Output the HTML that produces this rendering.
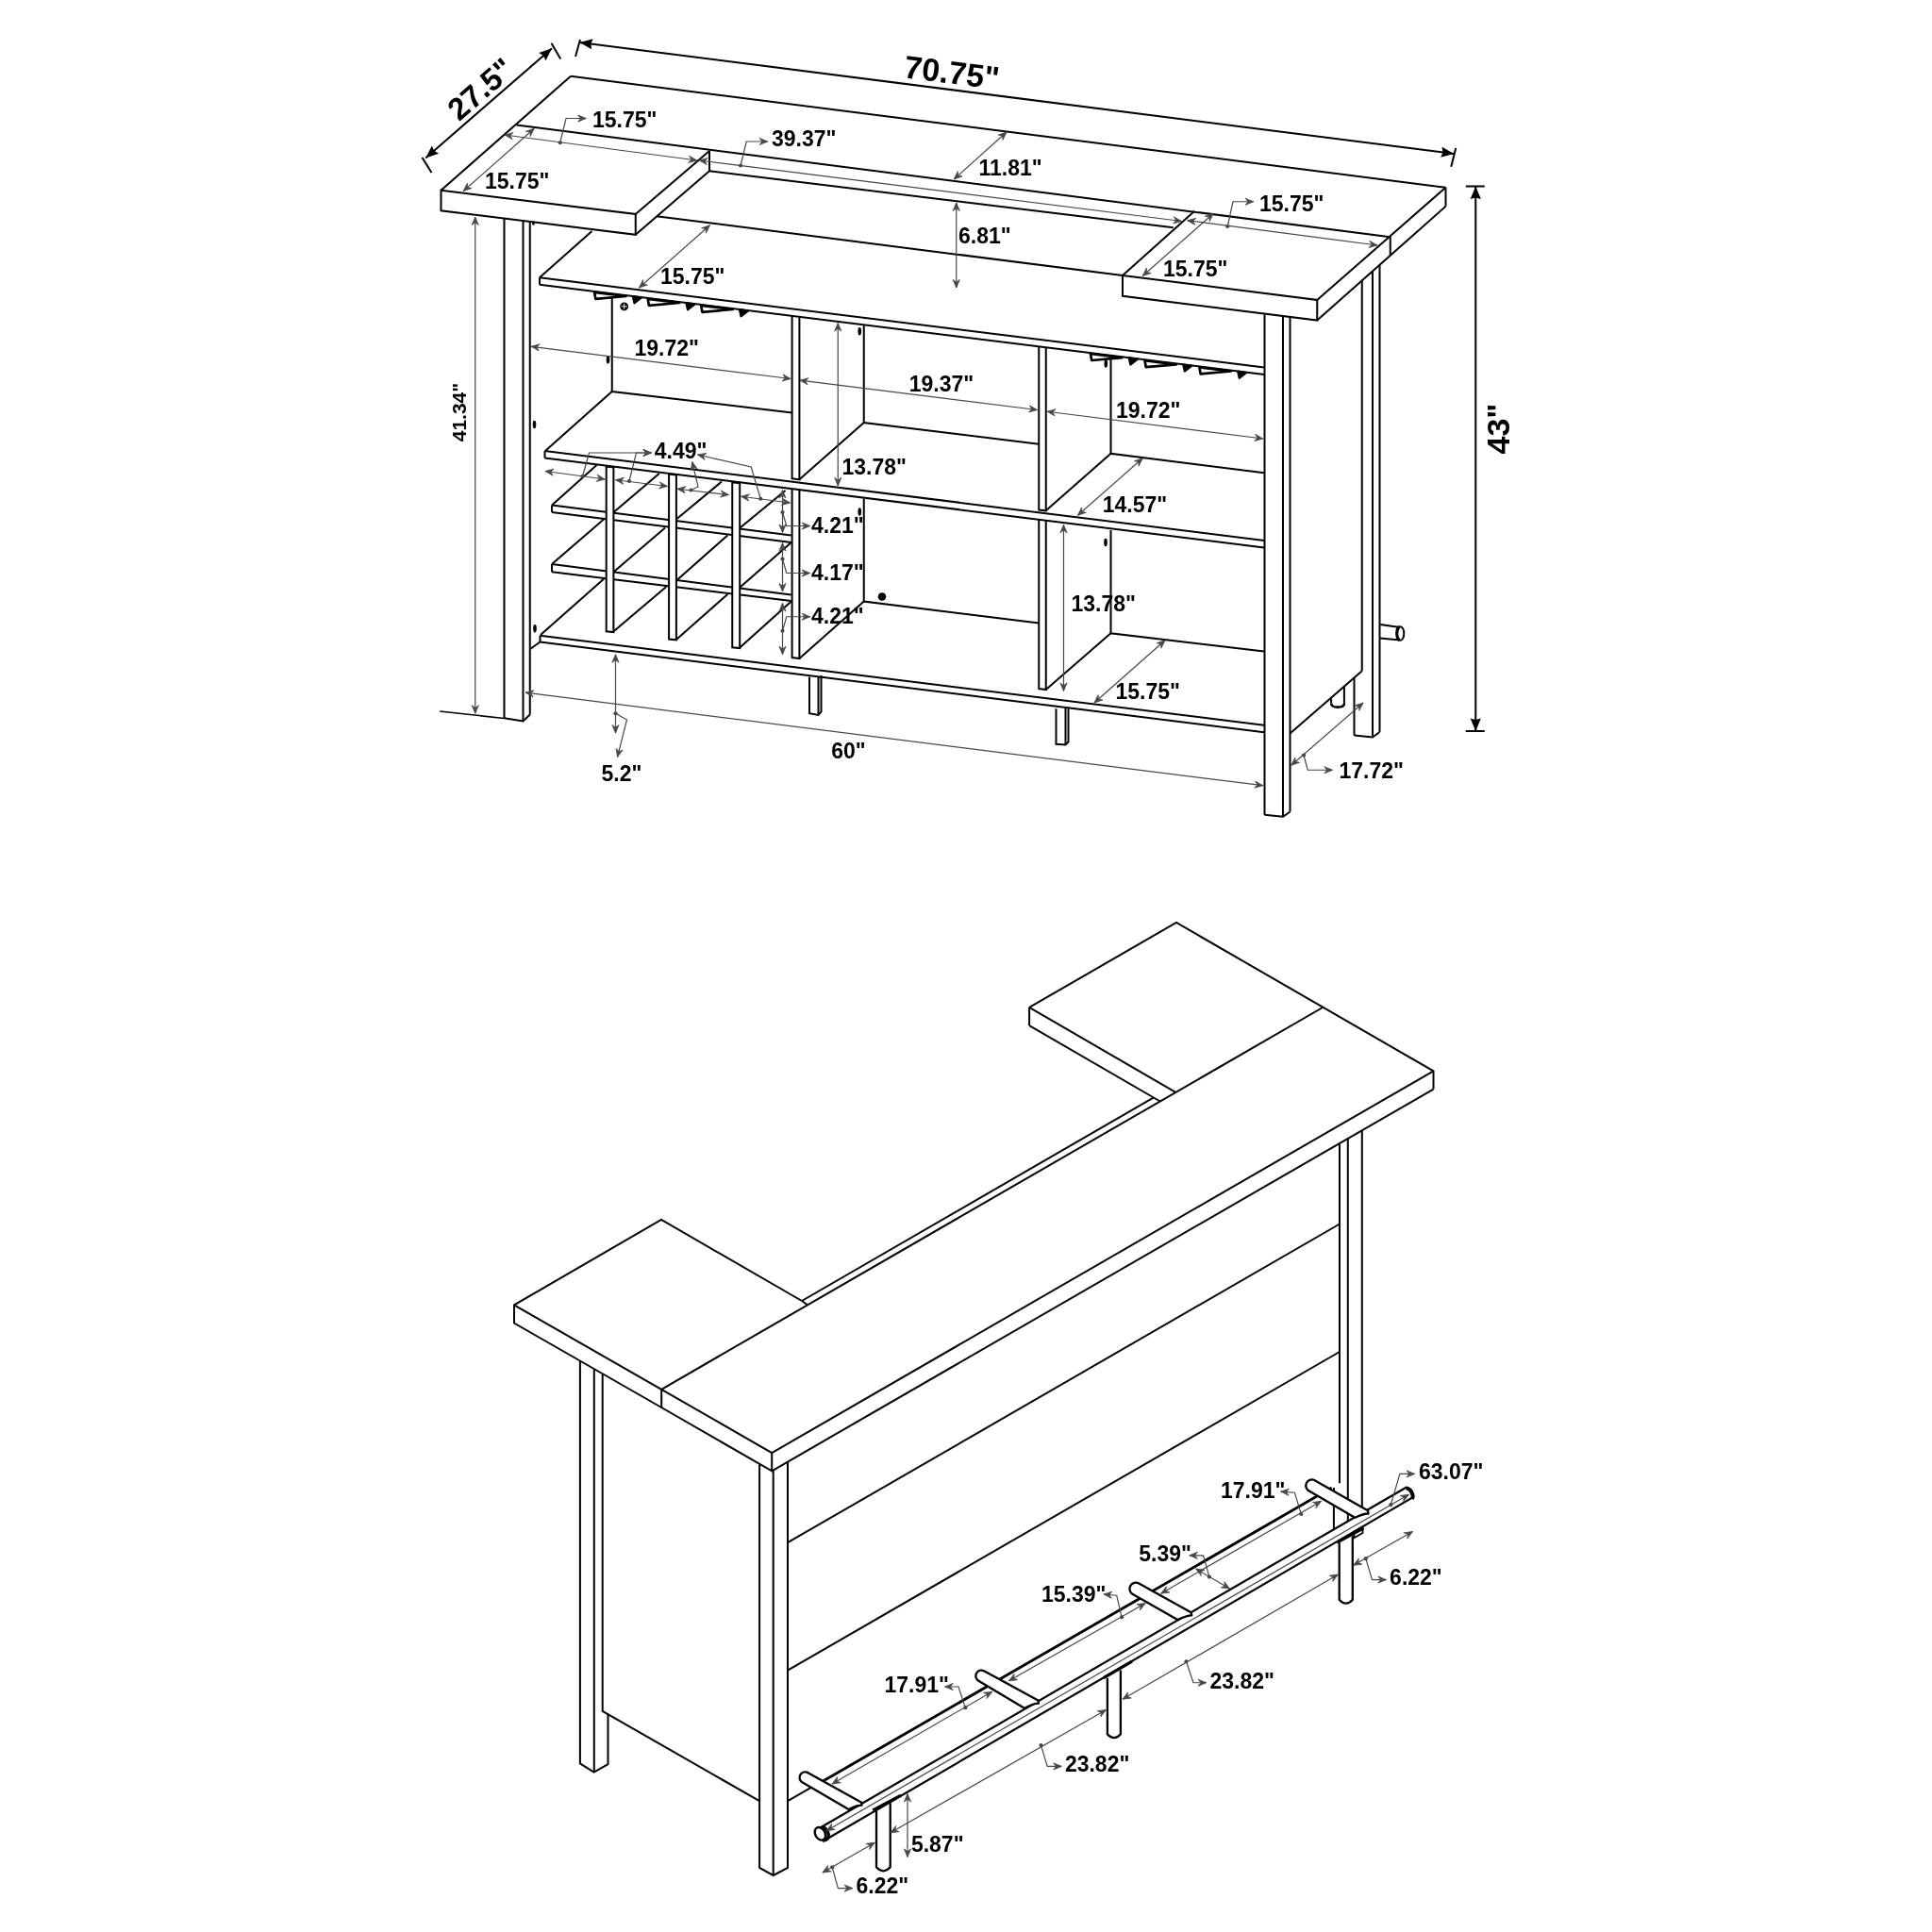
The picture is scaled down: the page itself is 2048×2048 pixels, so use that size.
<!DOCTYPE html>
<html><head><meta charset="utf-8"><style>
html,body{margin:0;padding:0;background:#fff;}
svg{display:block;will-change:transform;}
text{font-family:"Liberation Sans",sans-serif;fill:#000;}
</style></head><body>
<svg width="2048" height="2048" viewBox="0 0 2048 2048">
<rect width="2048" height="2048" fill="#fff"/>
<polyline points="605.00,80.75 1532.50,198.75" fill="none" stroke="#000" stroke-width="2.0" stroke-linejoin="miter" stroke-linecap="butt"/>
<polyline points="605.00,80.75 467.50,201.75" fill="none" stroke="#000" stroke-width="2.0" stroke-linejoin="miter" stroke-linecap="butt"/>
<polygon points="467.50,201.75 673.75,227.00 673.75,248.75 467.50,223.25" fill="none" stroke="#000" stroke-width="2.0" stroke-linejoin="miter"/>
<polyline points="673.75,227.00 752.00,160.00" fill="none" stroke="#000" stroke-width="2.0" stroke-linejoin="miter" stroke-linecap="butt"/>
<polyline points="673.75,248.75 752.00,181.25" fill="none" stroke="#000" stroke-width="2.0" stroke-linejoin="miter" stroke-linecap="butt"/>
<polyline points="752.00,160.00 752.00,181.25" fill="none" stroke="#000" stroke-width="2.0" stroke-linejoin="miter" stroke-linecap="butt"/>
<polyline points="547.50,132.50 1473.75,251.25" fill="none" stroke="#000" stroke-width="2.0" stroke-linejoin="miter" stroke-linecap="butt"/>
<polyline points="752.00,181.25 1243.75,241.25" fill="none" stroke="#000" stroke-width="2.0" stroke-linejoin="miter" stroke-linecap="butt"/>
<polyline points="1266.25,223.75 1190.00,292.00" fill="none" stroke="#000" stroke-width="2.0" stroke-linejoin="miter" stroke-linecap="butt"/>
<polyline points="696.00,229.20 1190.00,292.00" fill="none" stroke="#000" stroke-width="2.0" stroke-linejoin="miter" stroke-linecap="butt"/>
<polygon points="1190.00,292.00 1396.25,318.00 1396.25,339.50 1190.00,313.75" fill="none" stroke="#000" stroke-width="2.0" stroke-linejoin="miter"/>
<polyline points="1532.50,198.75 1396.25,318.00" fill="none" stroke="#000" stroke-width="2.0" stroke-linejoin="miter" stroke-linecap="butt"/>
<polyline points="1532.50,218.75 1396.25,339.50" fill="none" stroke="#000" stroke-width="2.0" stroke-linejoin="miter" stroke-linecap="butt"/>
<polyline points="1532.50,198.75 1532.50,218.75" fill="none" stroke="#000" stroke-width="2.0" stroke-linejoin="miter" stroke-linecap="butt"/>
<polyline points="1473.75,250.50 1473.75,270.50" fill="none" stroke="#000" stroke-width="2.0" stroke-linejoin="miter" stroke-linecap="butt"/>
<polyline points="627.50,245.00 572.00,294.25" fill="none" stroke="#000" stroke-width="2.0" stroke-linejoin="miter" stroke-linecap="butt"/>
<polyline points="572.00,294.25 1340.00,389.50" fill="none" stroke="#000" stroke-width="2.0" stroke-linejoin="miter" stroke-linecap="butt"/>
<polyline points="572.00,301.75 1340.00,397.00" fill="none" stroke="#000" stroke-width="2.0" stroke-linejoin="miter" stroke-linecap="butt"/>
<polyline points="572.00,294.25 572.00,301.75" fill="none" stroke="#000" stroke-width="2.0" stroke-linejoin="miter" stroke-linecap="butt"/>
<polyline points="534.50,231.50 534.50,761.25" fill="none" stroke="#000" stroke-width="2.0" stroke-linejoin="miter" stroke-linecap="butt"/>
<polyline points="554.50,234.00 554.50,764.50" fill="none" stroke="#000" stroke-width="2.0" stroke-linejoin="miter" stroke-linecap="butt"/>
<polyline points="561.75,235.00 561.75,757.50" fill="none" stroke="#000" stroke-width="2.0" stroke-linejoin="miter" stroke-linecap="butt"/>
<polyline points="534.50,761.25 554.50,764.50 561.75,757.50" fill="none" stroke="#000" stroke-width="2.0" stroke-linejoin="miter" stroke-linecap="butt"/>
<polyline points="466.25,754.00 534.50,761.50" fill="none" stroke="#000" stroke-width="1.6" stroke-linejoin="miter" stroke-linecap="butt"/>
<polyline points="1340.50,333.50 1340.50,863.75" fill="none" stroke="#000" stroke-width="2.0" stroke-linejoin="miter" stroke-linecap="butt"/>
<polyline points="1360.00,336.00 1360.00,865.75" fill="none" stroke="#000" stroke-width="2.0" stroke-linejoin="miter" stroke-linecap="butt"/>
<polyline points="1367.50,335.00 1367.50,860.50" fill="none" stroke="#000" stroke-width="2.0" stroke-linejoin="miter" stroke-linecap="butt"/>
<polyline points="1340.50,863.75 1360.00,865.75 1367.50,860.50" fill="none" stroke="#000" stroke-width="2.0" stroke-linejoin="miter" stroke-linecap="butt"/>
<polyline points="1443.75,298.00 1443.75,711.25" fill="none" stroke="#000" stroke-width="2.0" stroke-linejoin="miter" stroke-linecap="butt"/>
<polyline points="1455.00,287.50 1455.00,780.00" fill="none" stroke="#000" stroke-width="2.0" stroke-linejoin="miter" stroke-linecap="butt"/>
<polyline points="1462.50,281.00 1462.50,776.00" fill="none" stroke="#000" stroke-width="2.0" stroke-linejoin="miter" stroke-linecap="butt"/>
<polyline points="1367.50,777.50 1443.75,711.25" fill="none" stroke="#000" stroke-width="2.0" stroke-linejoin="miter" stroke-linecap="butt"/>
<polyline points="1435.50,718.50 1435.50,779.50" fill="none" stroke="#000" stroke-width="2.0" stroke-linejoin="miter" stroke-linecap="butt"/>
<polyline points="1435.50,779.50 1455.00,781.50 1462.50,776.00" fill="none" stroke="#000" stroke-width="2.0" stroke-linejoin="miter" stroke-linecap="butt"/>
<polyline points="1411.10,740.50 1411.10,745.50" fill="none" stroke="#000" stroke-width="2.0" stroke-linejoin="miter" stroke-linecap="butt"/>
<polyline points="1424.90,728.00 1424.90,746.00" fill="none" stroke="#000" stroke-width="2.0" stroke-linejoin="miter" stroke-linecap="butt"/>
<path d="M1411.1,745.5 Q1411.3,749.6 1418,749.6 Q1424.9,749.6 1424.9,746" fill="none" stroke="#000" stroke-width="2.6"/>
<polyline points="1463.00,662.00 1484.00,665.00" fill="none" stroke="#000" stroke-width="2.0" stroke-linejoin="miter" stroke-linecap="butt"/>
<polyline points="1463.00,676.50 1484.00,678.50" fill="none" stroke="#000" stroke-width="2.0" stroke-linejoin="miter" stroke-linecap="butt"/>
<ellipse cx="1484.5" cy="671.5" rx="3.8" ry="7.3" fill="#fff" stroke="#000" stroke-width="2"/>
<path d="M1483.5,664.5 A3.8,7.3 0 0 0 1483.5,678.5" fill="none" stroke="#000" stroke-width="3.2"/>
<polyline points="839.60,335.50 839.60,507.30 847.40,508.30 847.40,336.50" fill="none" stroke="#000" stroke-width="2.0" stroke-linejoin="miter" stroke-linecap="butt"/>
<polyline points="847.40,508.30 915.75,448.00" fill="none" stroke="#000" stroke-width="2.0" stroke-linejoin="miter" stroke-linecap="butt"/>
<polyline points="1101.25,367.50 1101.25,540.50 1108.75,541.30 1108.75,368.50" fill="none" stroke="#000" stroke-width="2.0" stroke-linejoin="miter" stroke-linecap="butt"/>
<polyline points="1108.75,541.30 1177.50,480.75" fill="none" stroke="#000" stroke-width="2.0" stroke-linejoin="miter" stroke-linecap="butt"/>
<polyline points="839.60,518.50 839.60,697.00 847.40,698.00 847.40,519.50" fill="none" stroke="#000" stroke-width="2.0" stroke-linejoin="miter" stroke-linecap="butt"/>
<polyline points="847.40,698.00 915.75,637.50" fill="none" stroke="#000" stroke-width="2.0" stroke-linejoin="miter" stroke-linecap="butt"/>
<polyline points="1101.25,551.00 1101.25,730.00 1108.75,731.00 1108.75,552.00" fill="none" stroke="#000" stroke-width="2.0" stroke-linejoin="miter" stroke-linecap="butt"/>
<polyline points="1108.75,731.00 1177.50,671.25" fill="none" stroke="#000" stroke-width="2.0" stroke-linejoin="miter" stroke-linecap="butt"/>
<polyline points="648.75,316.25 648.75,415.00 839.60,437.50" fill="none" stroke="#000" stroke-width="2.0" stroke-linejoin="miter" stroke-linecap="butt"/>
<polyline points="648.75,415.00 578.00,478.00" fill="none" stroke="#000" stroke-width="2.0" stroke-linejoin="miter" stroke-linecap="butt"/>
<polyline points="915.75,344.50 915.75,448.00 1101.25,470.75" fill="none" stroke="#000" stroke-width="2.0" stroke-linejoin="miter" stroke-linecap="butt"/>
<polyline points="1177.50,377.00 1177.50,480.75 1340.00,501.25" fill="none" stroke="#000" stroke-width="2.0" stroke-linejoin="miter" stroke-linecap="butt"/>
<polyline points="915.75,528.75 915.75,637.50 1101.25,660.50" fill="none" stroke="#000" stroke-width="2.0" stroke-linejoin="miter" stroke-linecap="butt"/>
<polyline points="1177.50,562.00 1177.50,671.25 1340.00,690.50" fill="none" stroke="#000" stroke-width="2.0" stroke-linejoin="miter" stroke-linecap="butt"/>
<polyline points="577.50,478.00 1340.00,573.00" fill="none" stroke="#000" stroke-width="2.0" stroke-linejoin="miter" stroke-linecap="butt"/>
<polyline points="577.50,485.50 1340.00,580.50" fill="none" stroke="#000" stroke-width="2.0" stroke-linejoin="miter" stroke-linecap="butt"/>
<polyline points="577.50,478.00 577.50,485.50" fill="none" stroke="#000" stroke-width="2.0" stroke-linejoin="miter" stroke-linecap="butt"/>
<polyline points="572.50,673.75 1340.00,768.75" fill="none" stroke="#000" stroke-width="2.0" stroke-linejoin="miter" stroke-linecap="butt"/>
<polyline points="572.50,680.50 1340.00,776.25" fill="none" stroke="#000" stroke-width="2.0" stroke-linejoin="miter" stroke-linecap="butt"/>
<polyline points="572.50,673.75 572.50,680.50" fill="none" stroke="#000" stroke-width="2.0" stroke-linejoin="miter" stroke-linecap="butt"/>
<polyline points="562.00,688.00 572.50,680.50" fill="none" stroke="#000" stroke-width="2.0" stroke-linejoin="miter" stroke-linecap="butt"/>
<polyline points="858.00,717.50 858.00,756.25 867.50,758.00 870.50,754.50 870.50,716.00" fill="none" stroke="#000" stroke-width="2.0" stroke-linejoin="miter" stroke-linecap="butt"/>
<polyline points="867.50,717.00 867.50,758.00" fill="none" stroke="#000" stroke-width="2.0" stroke-linejoin="miter" stroke-linecap="butt"/>
<polyline points="1119.50,751.25 1119.50,788.75 1129.50,789.50 1132.50,786.50 1132.50,749.50" fill="none" stroke="#000" stroke-width="2.0" stroke-linejoin="miter" stroke-linecap="butt"/>
<polyline points="1129.50,750.50 1129.50,789.50" fill="none" stroke="#000" stroke-width="2.0" stroke-linejoin="miter" stroke-linecap="butt"/>
<polyline points="585.00,535.50 838.75,567.50" fill="none" stroke="#000" stroke-width="2.0" stroke-linejoin="miter" stroke-linecap="butt"/>
<polyline points="585.00,543.00 838.75,575.00" fill="none" stroke="#000" stroke-width="2.0" stroke-linejoin="miter" stroke-linecap="butt"/>
<polyline points="585.00,535.50 585.00,543.00" fill="none" stroke="#000" stroke-width="2.0" stroke-linejoin="miter" stroke-linecap="butt"/>
<polyline points="585.00,598.00 838.75,630.50" fill="none" stroke="#000" stroke-width="2.0" stroke-linejoin="miter" stroke-linecap="butt"/>
<polyline points="585.00,606.25 838.75,637.00" fill="none" stroke="#000" stroke-width="2.0" stroke-linejoin="miter" stroke-linecap="butt"/>
<polyline points="585.00,598.00 585.00,606.25" fill="none" stroke="#000" stroke-width="2.0" stroke-linejoin="miter" stroke-linecap="butt"/>
<polyline points="585.00,535.50 632.50,493.00" fill="none" stroke="#000" stroke-width="2.0" stroke-linejoin="miter" stroke-linecap="butt"/>
<polyline points="650.50,543.00 698.75,502.00" fill="none" stroke="#000" stroke-width="2.0" stroke-linejoin="miter" stroke-linecap="butt"/>
<polyline points="717.50,550.00 765.00,510.50" fill="none" stroke="#000" stroke-width="2.0" stroke-linejoin="miter" stroke-linecap="butt"/>
<polyline points="784.50,559.50 832.50,520.00" fill="none" stroke="#000" stroke-width="2.0" stroke-linejoin="miter" stroke-linecap="butt"/>
<polyline points="585.00,598.00 640.00,550.50" fill="none" stroke="#000" stroke-width="2.0" stroke-linejoin="miter" stroke-linecap="butt"/>
<polyline points="650.50,606.25 705.00,559.50" fill="none" stroke="#000" stroke-width="2.0" stroke-linejoin="miter" stroke-linecap="butt"/>
<polyline points="717.50,615.00 771.25,567.50" fill="none" stroke="#000" stroke-width="2.0" stroke-linejoin="miter" stroke-linecap="butt"/>
<polyline points="784.50,622.50 838.75,575.00" fill="none" stroke="#000" stroke-width="2.0" stroke-linejoin="miter" stroke-linecap="butt"/>
<polyline points="573.00,673.00 640.00,613.75" fill="none" stroke="#000" stroke-width="2.0" stroke-linejoin="miter" stroke-linecap="butt"/>
<polyline points="650.50,669.25 706.25,622.00" fill="none" stroke="#000" stroke-width="2.0" stroke-linejoin="miter" stroke-linecap="butt"/>
<polyline points="717.50,677.50 771.25,630.00" fill="none" stroke="#000" stroke-width="2.0" stroke-linejoin="miter" stroke-linecap="butt"/>
<polyline points="784.50,686.25 838.75,637.50" fill="none" stroke="#000" stroke-width="2.0" stroke-linejoin="miter" stroke-linecap="butt"/>
<polygon points="642.70,494.50 642.70,669.25 650.40,670.05 650.40,495.50" fill="#fff" stroke="#000" stroke-width="2.0" stroke-linejoin="miter"/>
<polygon points="709.10,502.50 709.10,677.50 716.90,678.30 716.90,503.50" fill="#fff" stroke="#000" stroke-width="2.0" stroke-linejoin="miter"/>
<polygon points="776.25,511.25 776.25,686.25 784.20,687.05 784.20,512.25" fill="#fff" stroke="#000" stroke-width="2.0" stroke-linejoin="miter"/>
<polygon points="630.1,309.8 631.3,316.8 663.5,314.0" fill="#fff" stroke="#000" stroke-width="2.7" stroke-linejoin="round"/>
<polygon points="670.7,314.1 680.1,315.4 672.4,321.4" fill="#000" stroke="#000" stroke-width="2" stroke-linejoin="round"/>
<polygon points="686.7,316.8 687.9,323.8 720.1,321.0" fill="#fff" stroke="#000" stroke-width="2.7" stroke-linejoin="round"/>
<polygon points="727.3,321.1 736.7,322.4 729.0,328.4" fill="#000" stroke="#000" stroke-width="2" stroke-linejoin="round"/>
<polygon points="743.2,323.8 744.4,330.8 776.6,328.0" fill="#fff" stroke="#000" stroke-width="2.7" stroke-linejoin="round"/>
<polygon points="783.8,328.1 793.2,329.4 785.5,335.4" fill="#000" stroke="#000" stroke-width="2" stroke-linejoin="round"/>
<polygon points="1156.0,375.0 1157.2,382.0 1189.4,379.2" fill="#fff" stroke="#000" stroke-width="2.7" stroke-linejoin="round"/>
<polygon points="1196.6,379.3 1206.0,380.6 1198.3,386.6" fill="#000" stroke="#000" stroke-width="2" stroke-linejoin="round"/>
<polygon points="1213.5,382.1 1214.7,389.1 1246.9,386.3" fill="#fff" stroke="#000" stroke-width="2.7" stroke-linejoin="round"/>
<polygon points="1254.1,386.4 1263.5,387.7 1255.8,393.7" fill="#000" stroke="#000" stroke-width="2" stroke-linejoin="round"/>
<polygon points="1271.4,389.3 1272.6,396.3 1304.8,393.5" fill="#fff" stroke="#000" stroke-width="2.7" stroke-linejoin="round"/>
<polygon points="1312.0,393.6 1321.4,394.9 1313.7,400.9" fill="#000" stroke="#000" stroke-width="2" stroke-linejoin="round"/>
<circle cx="661.7" cy="324.8" r="4.4" fill="#000"/>
<path d="M658.7,324.8 H664.7 M661.7,321.8 V327.8" stroke="#fff" stroke-width="0.9"/>
<ellipse cx="1172.3" cy="385.5" rx="1.8" ry="4.2" fill="#000"/>
<ellipse cx="644.5" cy="381.25" rx="1.8" ry="4.2" fill="#000"/>
<ellipse cx="566.5" cy="450" rx="1.8" ry="4.2" fill="#000"/>
<ellipse cx="567" cy="666.25" rx="1.8" ry="4.2" fill="#000"/>
<ellipse cx="911.25" cy="351.25" rx="1.8" ry="4.2" fill="#000"/>
<ellipse cx="911.25" cy="542.5" rx="1.8" ry="4.2" fill="#000"/>
<ellipse cx="1172" cy="575" rx="1.8" ry="4.2" fill="#000"/>
<circle cx="935" cy="632.5" r="4.3" fill="#000"/>
<ellipse cx="565.5" cy="236.5" rx="1.4" ry="2.2" fill="#000"/>
<line x1="451.25" y1="167.50" x2="585.00" y2="51.25" stroke="#000" stroke-width="2.0"/>
<polygon points="451.25,167.50 457.77,154.42 460.22,159.71 465.11,162.87" fill="#000"/>
<polygon points="585.00,51.25 578.48,64.33 576.03,59.04 571.14,55.88" fill="#000"/>
<polyline points="447.50,167.00 457.50,183.00" fill="none" stroke="#000" stroke-width="2.0" stroke-linejoin="miter" stroke-linecap="butt"/>
<polyline points="584.50,45.75 594.25,62.50" fill="none" stroke="#000" stroke-width="2.0" stroke-linejoin="miter" stroke-linecap="butt"/>
<text x="517.00" y="103.00" font-size="33" text-anchor="middle" font-weight="bold" transform="rotate(-41 517.00 103.00)">27.5"</text>
<line x1="614.50" y1="45.00" x2="1541.25" y2="163.00" stroke="#000" stroke-width="2.0"/>
<polygon points="614.50,45.00 628.60,41.15 626.28,46.50 627.18,52.26" fill="#000"/>
<polygon points="1541.25,163.00 1527.15,166.85 1529.47,161.50 1528.57,155.74" fill="#000"/>
<polyline points="610.00,60.00 615.00,42.00" fill="none" stroke="#000" stroke-width="2.0" stroke-linejoin="miter" stroke-linecap="butt"/>
<polyline points="1543.25,157.00 1538.25,176.75" fill="none" stroke="#000" stroke-width="2.0" stroke-linejoin="miter" stroke-linecap="butt"/>
<text x="1007.50" y="88.50" font-size="34" text-anchor="middle" font-weight="bold" transform="rotate(7.2 1007.50 88.50)">70.75"</text>
<line x1="1564.25" y1="197.50" x2="1564.25" y2="775.00" stroke="#000" stroke-width="2.0"/>
<polygon points="1564.25,197.50 1569.85,211.00 1564.25,209.38 1558.65,211.00" fill="#000"/>
<polygon points="1564.25,775.00 1558.65,761.50 1564.25,763.12 1569.85,761.50" fill="#000"/>
<polyline points="1553.75,197.50 1573.75,197.50" fill="none" stroke="#000" stroke-width="2.0" stroke-linejoin="miter" stroke-linecap="butt"/>
<polyline points="1553.75,775.00 1573.75,775.00" fill="none" stroke="#000" stroke-width="2.0" stroke-linejoin="miter" stroke-linecap="butt"/>
<text x="1600.00" y="454.50" font-size="34" text-anchor="middle" font-weight="bold" transform="rotate(-90 1600.00 454.50)">43"</text>
<line x1="503.75" y1="230.00" x2="503.75" y2="756.25" stroke="#474747" stroke-width="1.2"/>
<polygon points="503.75,230.00 507.35,238.60 503.75,235.85 500.15,238.60" fill="#474747" stroke="#474747" stroke-width="0.8" stroke-linejoin="round"/>
<polygon points="503.75,756.25 500.15,747.65 503.75,750.40 507.35,747.65" fill="#474747" stroke="#474747" stroke-width="0.8" stroke-linejoin="round"/>
<text x="494.00" y="437.00" font-size="21" text-anchor="middle" font-weight="bold" transform="rotate(-90 494.00 437.00)">41.34"</text>
<line x1="535.00" y1="143.00" x2="738.75" y2="170.00" stroke="#474747" stroke-width="1.2"/>
<polygon points="535.00,143.00 544.00,140.56 540.80,143.77 543.05,147.70" fill="#474747" stroke="#474747" stroke-width="0.8" stroke-linejoin="round"/>
<polygon points="738.75,170.00 729.75,172.44 732.95,169.23 730.70,165.30" fill="#474747" stroke="#474747" stroke-width="0.8" stroke-linejoin="round"/>
<line x1="566.25" y1="136.25" x2="491.25" y2="202.50" stroke="#474747" stroke-width="1.2"/>
<polygon points="566.25,136.25 562.19,144.64 561.87,140.12 557.42,139.25" fill="#474747" stroke="#474747" stroke-width="0.8" stroke-linejoin="round"/>
<polygon points="491.25,202.50 495.31,194.11 495.63,198.63 500.08,199.50" fill="#474747" stroke="#474747" stroke-width="0.8" stroke-linejoin="round"/>
<polyline points="593.75,151.25 600.00,125.50 621.25,125.50" fill="none" stroke="#474747" stroke-width="1.2"/>
<circle cx="593.75" cy="151.25" r="2.1" fill="#474747"/>
<polygon points="621.25,125.50 612.65,129.10 615.40,125.50 612.65,121.90" fill="#474747" stroke="#474747" stroke-width="0.8" stroke-linejoin="round"/>
<text x="628.00" y="135.00" font-size="23" text-anchor="start" font-weight="bold">15.75"</text>
<text x="514.00" y="200.00" font-size="23" text-anchor="start" font-weight="bold">15.75"</text>
<line x1="741.25" y1="170.00" x2="1252.50" y2="234.50" stroke="#474747" stroke-width="1.2"/>
<polygon points="741.25,170.00 750.23,167.50 747.05,170.73 749.33,174.65" fill="#474747" stroke="#474747" stroke-width="0.8" stroke-linejoin="round"/>
<polygon points="1252.50,234.50 1243.52,237.00 1246.70,233.77 1244.42,229.85" fill="#474747" stroke="#474747" stroke-width="0.8" stroke-linejoin="round"/>
<polyline points="785.00,175.50 791.25,150.00 813.75,150.00" fill="none" stroke="#474747" stroke-width="1.2"/>
<circle cx="785.00" cy="175.50" r="2.1" fill="#474747"/>
<polygon points="813.75,150.00 805.15,153.60 807.90,150.00 805.15,146.40" fill="#474747" stroke="#474747" stroke-width="0.8" stroke-linejoin="round"/>
<text x="818.00" y="155.00" font-size="23" text-anchor="start" font-weight="bold">39.37"</text>
<line x1="1067.00" y1="140.00" x2="1011.25" y2="190.00" stroke="#474747" stroke-width="1.2"/>
<polygon points="1067.00,140.00 1063.00,148.42 1062.65,143.90 1058.19,143.06" fill="#474747" stroke="#474747" stroke-width="0.8" stroke-linejoin="round"/>
<polygon points="1011.25,190.00 1015.25,181.58 1015.60,186.10 1020.06,186.94" fill="#474747" stroke="#474747" stroke-width="0.8" stroke-linejoin="round"/>
<text x="1037.50" y="186.00" font-size="23" text-anchor="start" font-weight="bold">11.81"</text>
<line x1="1013.75" y1="215.00" x2="1013.75" y2="305.00" stroke="#474747" stroke-width="1.2"/>
<polygon points="1013.75,215.00 1017.35,223.60 1013.75,220.85 1010.15,223.60" fill="#474747" stroke="#474747" stroke-width="0.8" stroke-linejoin="round"/>
<polygon points="1013.75,305.00 1010.15,296.40 1013.75,299.15 1017.35,296.40" fill="#474747" stroke="#474747" stroke-width="0.8" stroke-linejoin="round"/>
<text x="1016.00" y="257.50" font-size="23" text-anchor="start" font-weight="bold">6.81"</text>
<line x1="752.50" y1="238.75" x2="677.50" y2="305.00" stroke="#474747" stroke-width="1.2"/>
<polygon points="752.50,238.75 748.44,247.14 748.12,242.62 743.67,241.75" fill="#474747" stroke="#474747" stroke-width="0.8" stroke-linejoin="round"/>
<polygon points="677.50,305.00 681.56,296.61 681.88,301.13 686.33,302.00" fill="#474747" stroke="#474747" stroke-width="0.8" stroke-linejoin="round"/>
<text x="700.00" y="301.00" font-size="23" text-anchor="start" font-weight="bold">15.75"</text>
<line x1="1258.75" y1="233.75" x2="1460.00" y2="260.00" stroke="#474747" stroke-width="1.2"/>
<polygon points="1258.75,233.75 1267.74,231.29 1264.55,234.51 1266.81,238.43" fill="#474747" stroke="#474747" stroke-width="0.8" stroke-linejoin="round"/>
<polygon points="1460.00,260.00 1451.01,262.46 1454.20,259.24 1451.94,255.32" fill="#474747" stroke="#474747" stroke-width="0.8" stroke-linejoin="round"/>
<polyline points="1301.25,240.00 1307.00,213.75 1328.75,213.75" fill="none" stroke="#474747" stroke-width="1.2"/>
<circle cx="1301.25" cy="240.00" r="2.1" fill="#474747"/>
<polygon points="1328.75,213.75 1320.15,217.35 1322.90,213.75 1320.15,210.15" fill="#474747" stroke="#474747" stroke-width="0.8" stroke-linejoin="round"/>
<text x="1335.00" y="224.00" font-size="23" text-anchor="start" font-weight="bold">15.75"</text>
<line x1="1286.25" y1="226.25" x2="1211.25" y2="292.50" stroke="#474747" stroke-width="1.2"/>
<polygon points="1286.25,226.25 1282.19,234.64 1281.87,230.12 1277.42,229.25" fill="#474747" stroke="#474747" stroke-width="0.8" stroke-linejoin="round"/>
<polygon points="1211.25,292.50 1215.31,284.11 1215.63,288.63 1220.08,289.50" fill="#474747" stroke="#474747" stroke-width="0.8" stroke-linejoin="round"/>
<text x="1233.00" y="292.50" font-size="23" text-anchor="start" font-weight="bold">15.75"</text>
<line x1="563.10" y1="367.30" x2="838.10" y2="401.50" stroke="#474747" stroke-width="1.2"/>
<polygon points="563.10,367.30 572.08,364.79 568.90,368.02 571.19,371.93" fill="#474747" stroke="#474747" stroke-width="0.8" stroke-linejoin="round"/>
<polygon points="838.10,401.50 829.12,404.01 832.30,400.78 830.01,396.87" fill="#474747" stroke="#474747" stroke-width="0.8" stroke-linejoin="round"/>
<text x="672.50" y="377.00" font-size="23" text-anchor="start" font-weight="bold">19.72"</text>
<line x1="848.00" y1="403.20" x2="1099.50" y2="434.50" stroke="#474747" stroke-width="1.2"/>
<polygon points="848.00,403.20 856.98,400.69 853.80,403.92 856.09,407.83" fill="#474747" stroke="#474747" stroke-width="0.8" stroke-linejoin="round"/>
<polygon points="1099.50,434.50 1090.52,437.01 1093.70,433.78 1091.41,429.87" fill="#474747" stroke="#474747" stroke-width="0.8" stroke-linejoin="round"/>
<text x="963.75" y="415.00" font-size="23" text-anchor="start" font-weight="bold">19.37"</text>
<line x1="1110.00" y1="436.25" x2="1338.75" y2="465.00" stroke="#474747" stroke-width="1.2"/>
<polygon points="1110.00,436.25 1118.98,433.75 1115.80,436.98 1118.08,440.89" fill="#474747" stroke="#474747" stroke-width="0.8" stroke-linejoin="round"/>
<polygon points="1338.75,465.00 1329.77,467.50 1332.95,464.27 1330.67,460.36" fill="#474747" stroke="#474747" stroke-width="0.8" stroke-linejoin="round"/>
<text x="1183.00" y="442.50" font-size="23" text-anchor="start" font-weight="bold">19.72"</text>
<line x1="888.25" y1="342.50" x2="888.25" y2="515.00" stroke="#474747" stroke-width="1.2"/>
<polygon points="888.25,342.50 891.85,351.10 888.25,348.35 884.65,351.10" fill="#474747" stroke="#474747" stroke-width="0.8" stroke-linejoin="round"/>
<polygon points="888.25,515.00 884.65,506.40 888.25,509.15 891.85,506.40" fill="#474747" stroke="#474747" stroke-width="0.8" stroke-linejoin="round"/>
<text x="892.50" y="502.50" font-size="23" text-anchor="start" font-weight="bold">13.78"</text>
<line x1="1211.25" y1="485.75" x2="1142.50" y2="546.25" stroke="#474747" stroke-width="1.2"/>
<polygon points="1211.25,485.75 1207.17,494.13 1206.86,489.61 1202.42,488.73" fill="#474747" stroke="#474747" stroke-width="0.8" stroke-linejoin="round"/>
<polygon points="1142.50,546.25 1146.58,537.87 1146.89,542.39 1151.33,543.27" fill="#474747" stroke="#474747" stroke-width="0.8" stroke-linejoin="round"/>
<text x="1168.75" y="542.50" font-size="23" text-anchor="start" font-weight="bold">14.57"</text>
<line x1="1127.50" y1="556.25" x2="1127.50" y2="732.50" stroke="#474747" stroke-width="1.2"/>
<polygon points="1127.50,556.25 1131.10,564.85 1127.50,562.10 1123.90,564.85" fill="#474747" stroke="#474747" stroke-width="0.8" stroke-linejoin="round"/>
<polygon points="1127.50,732.50 1123.90,723.90 1127.50,726.65 1131.10,723.90" fill="#474747" stroke="#474747" stroke-width="0.8" stroke-linejoin="round"/>
<text x="1135.50" y="647.50" font-size="23" text-anchor="start" font-weight="bold">13.78"</text>
<line x1="1235.00" y1="678.75" x2="1160.00" y2="745.00" stroke="#474747" stroke-width="1.2"/>
<polygon points="1235.00,678.75 1230.94,687.14 1230.62,682.62 1226.17,681.75" fill="#474747" stroke="#474747" stroke-width="0.8" stroke-linejoin="round"/>
<polygon points="1160.00,745.00 1164.06,736.61 1164.38,741.13 1168.83,742.00" fill="#474747" stroke="#474747" stroke-width="0.8" stroke-linejoin="round"/>
<text x="1182.50" y="741.25" font-size="23" text-anchor="start" font-weight="bold">15.75"</text>
<line x1="578.00" y1="499.50" x2="641.25" y2="508.00" stroke="#474747" stroke-width="1.2"/>
<polygon points="578.00,499.50 587.00,497.08 583.80,500.28 586.04,504.21" fill="#474747" stroke="#474747" stroke-width="0.8" stroke-linejoin="round"/>
<polygon points="641.25,508.00 632.25,510.42 635.45,507.22 633.21,503.29" fill="#474747" stroke="#474747" stroke-width="0.8" stroke-linejoin="round"/>
<line x1="652.50" y1="508.75" x2="707.50" y2="515.50" stroke="#474747" stroke-width="1.2"/>
<polygon points="652.50,508.75 661.47,506.22 658.30,509.46 660.60,513.37" fill="#474747" stroke="#474747" stroke-width="0.8" stroke-linejoin="round"/>
<polygon points="707.50,515.50 698.53,518.03 701.70,514.79 699.40,510.88" fill="#474747" stroke="#474747" stroke-width="0.8" stroke-linejoin="round"/>
<line x1="718.00" y1="518.25" x2="772.50" y2="524.50" stroke="#474747" stroke-width="1.2"/>
<polygon points="718.00,518.25 726.95,515.65 723.81,518.92 726.13,522.81" fill="#474747" stroke="#474747" stroke-width="0.8" stroke-linejoin="round"/>
<polygon points="772.50,524.50 763.55,527.10 766.69,523.83 764.37,519.94" fill="#474747" stroke="#474747" stroke-width="0.8" stroke-linejoin="round"/>
<line x1="785.50" y1="526.25" x2="837.50" y2="533.00" stroke="#474747" stroke-width="1.2"/>
<polygon points="785.50,526.25 794.49,523.79 791.30,527.00 793.57,530.93" fill="#474747" stroke="#474747" stroke-width="0.8" stroke-linejoin="round"/>
<polygon points="837.50,533.00 828.51,535.46 831.70,532.25 829.43,528.32" fill="#474747" stroke="#474747" stroke-width="0.8" stroke-linejoin="round"/>
<polyline points="617.50,505.00 624.50,480.00 690.50,480.00" fill="none" stroke="#474747" stroke-width="1.2"/>
<circle cx="617.50" cy="505.00" r="2.1" fill="#474747"/>
<polygon points="690.50,480.00 681.90,483.60 684.65,480.00 681.90,476.40" fill="#474747" stroke="#474747" stroke-width="0.8" stroke-linejoin="round"/>
<polyline points="667.00,510.00 674.50,480.00 690.50,480.00" fill="none" stroke="#474747" stroke-width="1.2"/>
<circle cx="667.00" cy="510.00" r="2.1" fill="#474747"/>
<polygon points="690.50,480.00 681.90,483.60 684.65,480.00 681.90,476.40" fill="#474747" stroke="#474747" stroke-width="0.8" stroke-linejoin="round"/>
<polyline points="732.50,519.50 740.00,516.00 733.75,489.50" fill="none" stroke="#474747" stroke-width="1.2"/>
<circle cx="732.50" cy="519.50" r="2.1" fill="#474747"/>
<polygon points="733.75,489.50 739.23,497.04 735.09,495.19 732.22,498.70" fill="#474747" stroke="#474747" stroke-width="0.8" stroke-linejoin="round"/>
<polyline points="806.25,528.75 796.25,495.00 739.50,482.00" fill="none" stroke="#474747" stroke-width="1.2"/>
<circle cx="806.25" cy="528.75" r="2.1" fill="#474747"/>
<polygon points="739.50,482.00 748.69,480.41 745.20,483.31 747.08,487.43" fill="#474747" stroke="#474747" stroke-width="0.8" stroke-linejoin="round"/>
<text x="693.75" y="486.00" font-size="23" text-anchor="start" font-weight="bold">4.49"</text>
<line x1="829.50" y1="519.50" x2="829.50" y2="564.50" stroke="#474747" stroke-width="1.2"/>
<polygon points="829.50,519.50 833.10,528.10 829.50,525.35 825.90,528.10" fill="#474747" stroke="#474747" stroke-width="0.8" stroke-linejoin="round"/>
<polygon points="829.50,564.50 825.90,555.90 829.50,558.65 833.10,555.90" fill="#474747" stroke="#474747" stroke-width="0.8" stroke-linejoin="round"/>
<polyline points="829.50,543.00 833.75,557.50 858.75,557.50" fill="none" stroke="#474747" stroke-width="1.2"/>
<circle cx="829.50" cy="543.00" r="2.1" fill="#474747"/>
<polygon points="858.75,557.50 850.15,561.10 852.90,557.50 850.15,553.90" fill="#474747" stroke="#474747" stroke-width="0.8" stroke-linejoin="round"/>
<text x="860.00" y="565.00" font-size="23" text-anchor="start" font-weight="bold">4.21"</text>
<line x1="829.50" y1="575.50" x2="829.50" y2="627.00" stroke="#474747" stroke-width="1.2"/>
<polygon points="829.50,575.50 833.10,584.10 829.50,581.35 825.90,584.10" fill="#474747" stroke="#474747" stroke-width="0.8" stroke-linejoin="round"/>
<polygon points="829.50,627.00 825.90,618.40 829.50,621.15 833.10,618.40" fill="#474747" stroke="#474747" stroke-width="0.8" stroke-linejoin="round"/>
<polyline points="829.50,592.50 833.75,607.50 858.75,607.50" fill="none" stroke="#474747" stroke-width="1.2"/>
<circle cx="829.50" cy="592.50" r="2.1" fill="#474747"/>
<polygon points="858.75,607.50 850.15,611.10 852.90,607.50 850.15,603.90" fill="#474747" stroke="#474747" stroke-width="0.8" stroke-linejoin="round"/>
<text x="860.00" y="615.00" font-size="23" text-anchor="start" font-weight="bold">4.17"</text>
<line x1="829.50" y1="639.50" x2="829.50" y2="693.75" stroke="#474747" stroke-width="1.2"/>
<polygon points="829.50,639.50 833.10,648.10 829.50,645.35 825.90,648.10" fill="#474747" stroke="#474747" stroke-width="0.8" stroke-linejoin="round"/>
<polygon points="829.50,693.75 825.90,685.15 829.50,687.90 833.10,685.15" fill="#474747" stroke="#474747" stroke-width="0.8" stroke-linejoin="round"/>
<polyline points="829.50,668.75 833.75,653.75 858.75,653.75" fill="none" stroke="#474747" stroke-width="1.2"/>
<circle cx="829.50" cy="668.75" r="2.1" fill="#474747"/>
<polygon points="858.75,653.75 850.15,657.35 852.90,653.75 850.15,650.15" fill="#474747" stroke="#474747" stroke-width="0.8" stroke-linejoin="round"/>
<text x="860.00" y="661.00" font-size="23" text-anchor="start" font-weight="bold">4.21"</text>
<line x1="652.50" y1="693.75" x2="652.50" y2="777.00" stroke="#474747" stroke-width="1.2"/>
<polygon points="652.50,693.75 656.10,702.35 652.50,699.60 648.90,702.35" fill="#474747" stroke="#474747" stroke-width="0.8" stroke-linejoin="round"/>
<polygon points="652.50,777.00 648.90,768.40 652.50,771.15 656.10,768.40" fill="#474747" stroke="#474747" stroke-width="0.8" stroke-linejoin="round"/>
<polyline points="652.50,756.25 664.50,763.00 654.50,802.50" fill="none" stroke="#474747" stroke-width="1.2"/>
<circle cx="652.50" cy="756.25" r="2.1" fill="#474747"/>
<polygon points="654.50,802.50 653.12,793.28 655.94,796.83 660.10,795.05" fill="#474747" stroke="#474747" stroke-width="0.8" stroke-linejoin="round"/>
<text x="637.50" y="827.50" font-size="23" text-anchor="start" font-weight="bold">5.2"</text>
<line x1="557.00" y1="734.20" x2="1338.75" y2="832.70" stroke="#474747" stroke-width="1.2"/>
<polygon points="557.00,734.20 565.98,731.70 562.80,734.93 565.08,738.85" fill="#474747" stroke="#474747" stroke-width="0.8" stroke-linejoin="round"/>
<polygon points="1338.75,832.70 1329.77,835.20 1332.95,831.97 1330.67,828.05" fill="#474747" stroke="#474747" stroke-width="0.8" stroke-linejoin="round"/>
<text x="881.25" y="803.75" font-size="23" text-anchor="start" font-weight="bold">60"</text>
<line x1="1368.75" y1="811.25" x2="1445.00" y2="745.00" stroke="#474747" stroke-width="1.2"/>
<polygon points="1368.75,811.25 1372.88,802.89 1373.16,807.41 1377.60,808.33" fill="#474747" stroke="#474747" stroke-width="0.8" stroke-linejoin="round"/>
<polygon points="1445.00,745.00 1440.87,753.36 1440.59,748.84 1436.15,747.92" fill="#474747" stroke="#474747" stroke-width="0.8" stroke-linejoin="round"/>
<polyline points="1382.00,800.50 1386.25,816.25 1412.50,816.25" fill="none" stroke="#474747" stroke-width="1.2"/>
<circle cx="1382.00" cy="800.50" r="2.1" fill="#474747"/>
<polygon points="1412.50,816.25 1403.90,819.85 1406.65,816.25 1403.90,812.65" fill="#474747" stroke="#474747" stroke-width="0.8" stroke-linejoin="round"/>
<text x="1419.50" y="825.00" font-size="23" text-anchor="start" font-weight="bold">17.72"</text>
<polyline points="1091.10,1067.80 1247.00,978.00 1519.50,1135.30 1519.50,1154.60" fill="none" stroke="#000" stroke-width="2.0" stroke-linejoin="miter" stroke-linecap="butt"/>
<polyline points="1091.10,1067.80 1091.10,1087.10" fill="none" stroke="#000" stroke-width="2.0" stroke-linejoin="miter" stroke-linecap="butt"/>
<polyline points="1091.10,1067.80 1245.80,1157.70" fill="none" stroke="#000" stroke-width="2.0" stroke-linejoin="miter" stroke-linecap="butt"/>
<polyline points="1091.10,1087.10 1229.80,1167.50" fill="none" stroke="#000" stroke-width="2.0" stroke-linejoin="miter" stroke-linecap="butt"/>
<polyline points="1402.00,1068.00 856.00,1383.30" fill="none" stroke="#000" stroke-width="2.0" stroke-linejoin="miter" stroke-linecap="butt"/>
<polyline points="1223.00,1163.40 850.00,1379.00" fill="none" stroke="#000" stroke-width="2.0" stroke-linejoin="miter" stroke-linecap="butt"/>
<polyline points="850.00,1379.00 701.00,1293.00 545.00,1383.40 545.00,1402.50 701.20,1492.00 818.20,1559.30 818.20,1540.10 701.20,1472.80 545.00,1383.40" fill="none" stroke="#000" stroke-width="2.0" stroke-linejoin="miter" stroke-linecap="butt"/>
<polyline points="701.20,1472.80 701.20,1492.00" fill="none" stroke="#000" stroke-width="2.0" stroke-linejoin="miter" stroke-linecap="butt"/>
<polyline points="701.20,1472.80 856.00,1383.30" fill="none" stroke="#000" stroke-width="2.0" stroke-linejoin="miter" stroke-linecap="butt"/>
<polyline points="850.00,1379.00 856.00,1383.30" fill="none" stroke="#000" stroke-width="2.0" stroke-linejoin="miter" stroke-linecap="butt"/>
<polyline points="818.20,1540.10 1519.50,1135.30" fill="none" stroke="#000" stroke-width="2.0" stroke-linejoin="miter" stroke-linecap="butt"/>
<polyline points="818.20,1559.30 1519.50,1154.60" fill="none" stroke="#000" stroke-width="2.0" stroke-linejoin="miter" stroke-linecap="butt"/>
<polyline points="614.90,1442.90 614.90,1869.40 629.60,1878.50 644.50,1870.20 644.50,1817.00" fill="none" stroke="#000" stroke-width="2.0" stroke-linejoin="miter" stroke-linecap="butt"/>
<polyline points="629.80,1451.60 629.80,1878.50" fill="none" stroke="#000" stroke-width="2.0" stroke-linejoin="miter" stroke-linecap="butt"/>
<polyline points="638.70,1456.70 638.70,1813.90 805.10,1909.20" fill="none" stroke="#000" stroke-width="2.0" stroke-linejoin="miter" stroke-linecap="butt"/>
<polyline points="805.10,1552.40 805.10,1980.00 819.70,1988.00 835.00,1980.00 835.00,1549.60" fill="none" stroke="#000" stroke-width="2.0" stroke-linejoin="miter" stroke-linecap="butt"/>
<polyline points="819.70,1559.30 819.70,1988.00" fill="none" stroke="#000" stroke-width="2.0" stroke-linejoin="miter" stroke-linecap="butt"/>
<polyline points="835.00,1635.20 1420.00,1297.50" fill="none" stroke="#000" stroke-width="2.0" stroke-linejoin="miter" stroke-linecap="butt"/>
<polyline points="835.00,1770.60 1420.00,1433.00" fill="none" stroke="#000" stroke-width="2.0" stroke-linejoin="miter" stroke-linecap="butt"/>
<polyline points="835.00,1909.20 1411.50,1576.60" fill="none" stroke="#000" stroke-width="2.0" stroke-linejoin="miter" stroke-linecap="butt"/>
<polyline points="1420.00,1211.50 1420.00,1572.30" fill="none" stroke="#000" stroke-width="2.0" stroke-linejoin="miter" stroke-linecap="butt"/>
<polyline points="1428.80,1206.50 1428.80,1589.00" fill="none" stroke="#000" stroke-width="2.0" stroke-linejoin="miter" stroke-linecap="butt"/>
<polyline points="1443.80,1197.80 1443.80,1597.00" fill="none" stroke="#000" stroke-width="2.0" stroke-linejoin="miter" stroke-linecap="butt"/>
<polyline points="1413.90,1577.00 1413.90,1621.00" fill="none" stroke="#000" stroke-width="2.0" stroke-linejoin="miter" stroke-linecap="butt"/>
<polyline points="1428.80,1605.00 1428.80,1613.00" fill="none" stroke="#000" stroke-width="2.0" stroke-linejoin="miter" stroke-linecap="butt"/>
<polyline points="874.40,1887.30 1047.00,1787.76" fill="none" stroke="#000" stroke-width="2.2" stroke-linejoin="miter" stroke-linecap="butt"/>
<polyline points="1060.00,1780.26 1208.70,1694.51" fill="none" stroke="#000" stroke-width="2.2" stroke-linejoin="miter" stroke-linecap="butt"/>
<polyline points="1222.30,1686.67 1397.00,1585.92" fill="none" stroke="#000" stroke-width="2.2" stroke-linejoin="miter" stroke-linecap="butt"/>
<polyline points="869.00,1937.81 1491.00,1576.43" fill="none" stroke="#000" stroke-width="2.2" stroke-linejoin="miter" stroke-linecap="butt"/>
<polyline points="872.00,1952.02 1497.00,1587.65" fill="none" stroke="#000" stroke-width="2.2" stroke-linejoin="miter" stroke-linecap="butt"/>
<ellipse cx="869.4" cy="1943.8" rx="5.2" ry="7.2" transform="rotate(-28 869.4 1943.8)" fill="#fff" stroke="#000" stroke-width="2.4"/>
<path d="M871.5,1936.6 A5.2,7.2 -28 0 1 873.2,1950.6" fill="none" stroke="#000" stroke-width="3.5"/>
<path d="M1490.5,1577.4 A5.2,7.2 -28 0 1 1496.8,1589" fill="none" stroke="#000" stroke-width="4"/>
<path d="M899.6,1918.0 L849.9,1889.0 A5.93,5.93 0 0 1 857.0,1879.5 L912.9,1910.5 L913.5,1913.7 Q908.9,1913.5 899.6,1918.0 Z" fill="#fff" stroke="#000" stroke-width="2.3" stroke-linejoin="round"/>
<path d="M1085.9,1810.8 L1037.3,1781.8 A6.05,6.05 0 0 1 1043.5,1771.4 L1100.4,1802.5 L1101.0,1805.7 Q1096.4,1805.5 1085.9,1810.8 Z" fill="#fff" stroke="#000" stroke-width="2.3" stroke-linejoin="round"/>
<path d="M1248.3,1717.1 L1200.5,1689.8 A6.64,6.64 0 0 1 1207.3,1678.4 L1262.6,1709.2 L1263.2,1712.4 Q1258.6,1712.2 1248.3,1717.1 Z" fill="#fff" stroke="#000" stroke-width="2.3" stroke-linejoin="round"/>
<path d="M1436.3,1608.7 L1387.8,1580.6 A6.40,6.40 0 0 1 1393.2,1569.0 L1449.9,1601.3 L1450.5,1604.5 Q1445.9,1604.3 1436.3,1608.7 Z" fill="#fff" stroke="#000" stroke-width="2.3" stroke-linejoin="round"/>
<path d="M929,1919.6 L929,1979.3 Q936.35,1987.3 943.7,1979.3 L943.7,1911.3" fill="none" stroke="#000" stroke-width="2.3"/>
<path d="M1173.9,1778.7 L1173.9,1838.2 Q1180.9,1846.2 1187.9,1838.2 L1187.9,1770.4" fill="none" stroke="#000" stroke-width="2.3"/>
<path d="M1419.7,1635.2 L1419.7,1695.7 Q1426.75,1703.7 1433.8,1695.7 L1433.8,1628.2" fill="none" stroke="#000" stroke-width="2.3"/>
<polyline points="925.30,1918.80 955.10,1903.10" fill="none" stroke="#000" stroke-width="3.2" stroke-linejoin="miter" stroke-linecap="butt"/>
<polyline points="1169.80,1778.70 1200.00,1761.10" fill="none" stroke="#000" stroke-width="3.2" stroke-linejoin="miter" stroke-linecap="butt"/>
<polyline points="1417.20,1635.20 1445.40,1619.90" fill="none" stroke="#000" stroke-width="3.2" stroke-linejoin="miter" stroke-linecap="butt"/>
<polygon points="1435.40,1623.50 1444.50,1618.30 1444.50,1625.00 1435.40,1630.20" fill="none" stroke="#000" stroke-width="1.8" stroke-linejoin="miter"/>
<line x1="871.90" y1="1985.00" x2="927.40" y2="1953.20" stroke="#474747" stroke-width="1.2"/>
<polygon points="871.90,1985.00 877.57,1977.60 876.97,1982.09 881.15,1983.85" fill="#474747" stroke="#474747" stroke-width="0.8" stroke-linejoin="round"/>
<polygon points="927.40,1953.20 921.73,1960.60 922.33,1956.11 918.15,1954.35" fill="#474747" stroke="#474747" stroke-width="0.8" stroke-linejoin="round"/>
<polyline points="882.20,1979.30 888.40,2001.60 903.80,2001.60" fill="none" stroke="#474747" stroke-width="1.2"/>
<circle cx="882.20" cy="1979.30" r="2.1" fill="#474747"/>
<polygon points="903.80,2001.60 895.20,2005.20 897.95,2001.60 895.20,1998.00" fill="#474747" stroke="#474747" stroke-width="0.8" stroke-linejoin="round"/>
<text x="907.50" y="2007.00" font-size="23" text-anchor="start" font-weight="bold">6.22"</text>
<line x1="962.00" y1="1901.40" x2="962.00" y2="1968.50" stroke="#474747" stroke-width="1.2"/>
<polygon points="962.00,1901.40 965.60,1910.00 962.00,1907.25 958.40,1910.00" fill="#474747" stroke="#474747" stroke-width="0.8" stroke-linejoin="round"/>
<polygon points="962.00,1968.50 958.40,1959.90 962.00,1962.65 965.60,1959.90" fill="#474747" stroke="#474747" stroke-width="0.8" stroke-linejoin="round"/>
<text x="965.90" y="1963.10" font-size="23" text-anchor="start" font-weight="bold">5.87"</text>
<line x1="943.90" y1="1942.80" x2="1172.50" y2="1812.50" stroke="#474747" stroke-width="1.2"/>
<polygon points="943.90,1942.80 949.59,1935.41 948.98,1939.90 953.15,1941.67" fill="#474747" stroke="#474747" stroke-width="0.8" stroke-linejoin="round"/>
<polygon points="1172.50,1812.50 1166.81,1819.89 1167.42,1815.40 1163.25,1813.63" fill="#474747" stroke="#474747" stroke-width="0.8" stroke-linejoin="round"/>
<polyline points="1103.50,1850.10 1110.20,1872.40 1125.30,1872.40" fill="none" stroke="#474747" stroke-width="1.2"/>
<circle cx="1103.50" cy="1850.10" r="2.1" fill="#474747"/>
<polygon points="1125.30,1872.40 1116.70,1876.00 1119.45,1872.40 1116.70,1868.80" fill="#474747" stroke="#474747" stroke-width="0.8" stroke-linejoin="round"/>
<text x="1128.90" y="1878.00" font-size="23" text-anchor="start" font-weight="bold">23.82"</text>
<line x1="1190.00" y1="1801.25" x2="1418.50" y2="1669.00" stroke="#474747" stroke-width="1.2"/>
<polygon points="1190.00,1801.25 1195.64,1793.83 1195.06,1798.32 1199.25,1800.06" fill="#474747" stroke="#474747" stroke-width="0.8" stroke-linejoin="round"/>
<polygon points="1418.50,1669.00 1412.86,1676.42 1413.44,1671.93 1409.25,1670.19" fill="#474747" stroke="#474747" stroke-width="0.8" stroke-linejoin="round"/>
<polyline points="1257.50,1761.25 1265.00,1783.75 1278.75,1783.75" fill="none" stroke="#474747" stroke-width="1.2"/>
<circle cx="1257.50" cy="1761.25" r="2.1" fill="#474747"/>
<polygon points="1278.75,1783.75 1270.15,1787.35 1272.90,1783.75 1270.15,1780.15" fill="#474747" stroke="#474747" stroke-width="0.8" stroke-linejoin="round"/>
<text x="1282.50" y="1790.00" font-size="23" text-anchor="start" font-weight="bold">23.82"</text>
<line x1="1434.60" y1="1659.30" x2="1497.50" y2="1623.60" stroke="#474747" stroke-width="1.2"/>
<polygon points="1434.60,1659.30 1440.30,1651.92 1439.69,1656.41 1443.86,1658.19" fill="#474747" stroke="#474747" stroke-width="0.8" stroke-linejoin="round"/>
<polygon points="1497.50,1623.60 1491.80,1630.98 1492.41,1626.49 1488.24,1624.71" fill="#474747" stroke="#474747" stroke-width="0.8" stroke-linejoin="round"/>
<polyline points="1447.80,1652.20 1454.50,1674.60 1469.40,1674.60" fill="none" stroke="#474747" stroke-width="1.2"/>
<circle cx="1447.80" cy="1652.20" r="2.1" fill="#474747"/>
<polygon points="1469.40,1674.60 1460.80,1678.20 1463.55,1674.60 1460.80,1671.00" fill="#474747" stroke="#474747" stroke-width="0.8" stroke-linejoin="round"/>
<text x="1473.10" y="1680.00" font-size="23" text-anchor="start" font-weight="bold">6.22"</text>
<line x1="876.00" y1="1940.70" x2="1493.40" y2="1584.30" stroke="#474747" stroke-width="1.2"/>
<polygon points="876.00,1940.70 881.65,1933.28 881.06,1937.78 885.25,1939.52" fill="#474747" stroke="#474747" stroke-width="0.8" stroke-linejoin="round"/>
<polygon points="1493.40,1584.30 1487.75,1591.72 1488.34,1587.22 1484.15,1585.48" fill="#474747" stroke="#474747" stroke-width="0.8" stroke-linejoin="round"/>
<polyline points="1474.30,1595.10 1483.90,1562.40 1499.60,1562.40" fill="none" stroke="#474747" stroke-width="1.2"/>
<circle cx="1474.30" cy="1595.10" r="2.1" fill="#474747"/>
<polygon points="1499.60,1562.40 1491.00,1566.00 1493.75,1562.40 1491.00,1558.80" fill="#474747" stroke="#474747" stroke-width="0.8" stroke-linejoin="round"/>
<text x="1504.00" y="1567.50" font-size="23" text-anchor="start" font-weight="bold">63.07"</text>
<line x1="882.00" y1="1891.00" x2="1051.80" y2="1793.20" stroke="#474747" stroke-width="1.2"/>
<polygon points="882.00,1891.00 887.66,1883.59 887.07,1888.08 891.25,1889.83" fill="#474747" stroke="#474747" stroke-width="0.8" stroke-linejoin="round"/>
<polygon points="1051.80,1793.20 1046.14,1800.61 1046.73,1796.12 1042.55,1794.37" fill="#474747" stroke="#474747" stroke-width="0.8" stroke-linejoin="round"/>
<polyline points="1023.30,1810.20 1016.00,1788.00 1001.60,1788.00" fill="none" stroke="#474747" stroke-width="1.2"/>
<circle cx="1023.30" cy="1810.20" r="2.1" fill="#474747"/>
<polygon points="1001.60,1788.00 1010.20,1784.40 1007.45,1788.00 1010.20,1791.60" fill="#474747" stroke="#474747" stroke-width="0.8" stroke-linejoin="round"/>
<text x="1006.00" y="1793.75" font-size="23" text-anchor="end" font-weight="bold">17.91"</text>
<line x1="1069.40" y1="1781.80" x2="1214.20" y2="1699.50" stroke="#474747" stroke-width="1.2"/>
<polygon points="1069.40,1781.80 1075.10,1774.42 1074.48,1778.91 1078.66,1780.68" fill="#474747" stroke="#474747" stroke-width="0.8" stroke-linejoin="round"/>
<polygon points="1214.20,1699.50 1208.50,1706.88 1209.12,1702.39 1204.94,1700.62" fill="#474747" stroke="#474747" stroke-width="0.8" stroke-linejoin="round"/>
<polyline points="1189.10,1714.30 1183.75,1691.25 1170.00,1690.00" fill="none" stroke="#474747" stroke-width="1.2"/>
<circle cx="1189.10" cy="1714.30" r="2.1" fill="#474747"/>
<polygon points="1170.00,1690.00 1178.89,1687.19 1175.82,1690.53 1178.24,1694.36" fill="#474747" stroke="#474747" stroke-width="0.8" stroke-linejoin="round"/>
<text x="1172.50" y="1697.50" font-size="23" text-anchor="end" font-weight="bold">15.39"</text>
<line x1="1267.70" y1="1663.00" x2="1303.50" y2="1684.10" stroke="#474747" stroke-width="1.2"/>
<polygon points="1267.70,1663.00 1276.94,1664.27 1272.74,1665.97 1273.28,1670.47" fill="#474747" stroke="#474747" stroke-width="0.8" stroke-linejoin="round"/>
<polygon points="1303.50,1684.10 1294.26,1682.83 1298.46,1681.13 1297.92,1676.63" fill="#474747" stroke="#474747" stroke-width="0.8" stroke-linejoin="round"/>
<polyline points="1281.90,1671.60 1275.60,1648.80 1260.80,1648.80" fill="none" stroke="#474747" stroke-width="1.2"/>
<circle cx="1281.90" cy="1671.60" r="2.1" fill="#474747"/>
<polygon points="1260.80,1648.80 1269.40,1645.20 1266.65,1648.80 1269.40,1652.40" fill="#474747" stroke="#474747" stroke-width="0.8" stroke-linejoin="round"/>
<text x="1263.00" y="1654.50" font-size="23" text-anchor="end" font-weight="bold">5.39"</text>
<line x1="1230.70" y1="1689.20" x2="1400.60" y2="1591.30" stroke="#474747" stroke-width="1.2"/>
<polygon points="1230.70,1689.20 1236.35,1681.79 1235.77,1686.28 1239.95,1688.03" fill="#474747" stroke="#474747" stroke-width="0.8" stroke-linejoin="round"/>
<polygon points="1400.60,1591.30 1394.95,1598.71 1395.53,1594.22 1391.35,1592.47" fill="#474747" stroke="#474747" stroke-width="0.8" stroke-linejoin="round"/>
<polyline points="1379.30,1605.00 1372.40,1582.20 1357.60,1581.10" fill="none" stroke="#474747" stroke-width="1.2"/>
<circle cx="1379.30" cy="1605.00" r="2.1" fill="#474747"/>
<polygon points="1357.60,1581.10 1366.44,1578.15 1363.43,1581.53 1365.91,1585.33" fill="#474747" stroke="#474747" stroke-width="0.8" stroke-linejoin="round"/>
<text x="1362.50" y="1587.90" font-size="23" text-anchor="end" font-weight="bold">17.91"</text>
</svg></body></html>
